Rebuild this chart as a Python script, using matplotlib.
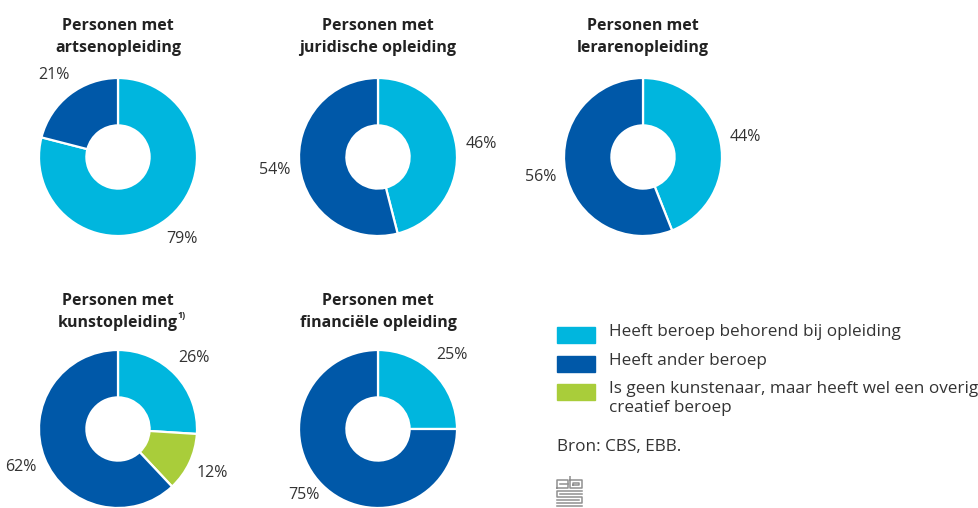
import matplotlib.pyplot as plt
from matplotlib.patches import Rectangle
import numpy as np

plt.rcParams['font.family'] = ['Open Sans', 'DejaVu Sans']

# data
titles = ['Personen met\nartsenopleiding',
          'Personen met\njuridische opleiding',
          'Personen met\nlerarenopleiding',
          'Personen met\nkunstopleiding',
          'Personen met\nfinanciële opleiding']
footnotes = ['', '', '', '1)', '']
categories = ['Heeft beroep behorend bij opleiding',
              'Heeft ander beroep',
              'Is geen kunstenaar, maar heeft wel een overig\ncreatief beroep']
colors = ['#00b6de', '#0058a8', '#a9cd3a']
# per chart: [behorend, ander, overig creatief]
artsen = [79, 21, 0]
juridisch = [46, 54, 0]
leraren = [44, 56, 0]
kunst = [26, 62, 12]
financieel = [25, 75, 0]
series = [artsen, juridisch, leraren, kunst, financieel]

W, H = 979, 508
fig = plt.figure(figsize=(W / 100, H / 100), dpi=100)
renderer = fig.canvas.get_renderer()

R = 79  # outer radius in px
centers = [(118, 157), (378, 157), (643, 157), (118, 429), (378, 429)]
title_y = [37, 37, 37, 312, 312]
txt = '#333333'
tfs = 11.5

for i, vals in enumerate(series):
    cx, cy = centers[i]
    ax = fig.add_axes([(cx - R) / W, (H - cy - R) / H, 2 * R / W, 2 * R / H])
    # order around the donut clockwise: behorend, overig, ander
    order = [0, 2, 1]
    v = [vals[k] for k in order if vals[k] > 0]
    c = [colors[k] for k in order if vals[k] > 0]
    wedges, _ = ax.pie(v, colors=c, startangle=90, counterclock=False,
                       radius=1, wedgeprops=dict(width=0.6, edgecolor='white', linewidth=1.6))
    for w, val in zip(wedges, v):
        ang = np.deg2rad((w.theta1 + w.theta2) / 2)
        lx, ly = 1.32 * np.cos(ang), 1.32 * np.sin(ang)
        # keep the label inside the figure
        ly = max(ly, -(H - cy - 13) / R)
        ax.text(lx, ly, f'{val}%', ha='center', va='center',
                fontsize=11.5, color=txt)
    ax.set_xlim(-1, 1)
    ax.set_ylim(-1, 1)
    ax.set_aspect('equal')
    ax.axis('off')
    t = fig.text(cx / W, 1 - title_y[i] / H, titles[i], ha='center', va='center',
                 fontsize=tfs, fontweight='bold', color='#222222', linespacing=1.55)
    if footnotes[i]:
        bb = t.get_window_extent(renderer)
        line2 = titles[i].split('\n')[1]
        tmp = fig.text(0, 0, line2, fontsize=tfs, fontweight='bold')
        w2 = tmp.get_window_extent(renderer).width
        tmp.remove()
        fig.text((cx + w2 / 2 - 0.5) / W, (bb.y0 + 11) / H, footnotes[i],
                 ha='left', va='bottom', fontsize=6.5, fontweight='bold', color='#222222')

# legend
legend_y = [335, 364, 392]
for lab, col, ly in zip(categories, colors, legend_y):
    fig.patches.append(Rectangle((557 / W, 1 - (ly + 8) / H), 38 / W, 16 / H,
                                 color=col, transform=fig.transFigure))
    fig.text(609 / W, 1 - (ly - 11) / H, lab, ha='left', va='top',
             fontsize=12.3, color=txt, linespacing=1.25)

fig.text(557 / W, 1 - 447 / H, 'Bron: CBS, EBB.', ha='left', va='center',
         fontsize=12.3, color=txt)

# small cbs logo
lg = fig.add_axes([556 / W, 0, 28 / W, 32 / H])
lg.set_xlim(0, 28)
lg.set_ylim(0, 32)
lg.axis('off')
gray = '#8f8f8f'
paths = [
    ([1, 12, 12, 1, 1], [20, 20, 28, 28, 20]),
    ([4, 12], [24, 24]),
    ([14, 14, 26, 26, 14], [32, 20, 20, 28, 28]),
    ([17, 23, 23, 17, 17], [23, 23, 25, 25, 23]),
    ([26, 1, 1, 26, 26, 1], [17, 17, 11, 11, 5, 5]),
    ([4, 26], [14, 14]),
    ([1, 23], [8, 8]),
    ([1, 26], [2, 2]),
]
for xs, ys in paths:
    lg.plot(xs, ys, color=gray, lw=1.1)

fig.savefig('out.png', dpi=100)
